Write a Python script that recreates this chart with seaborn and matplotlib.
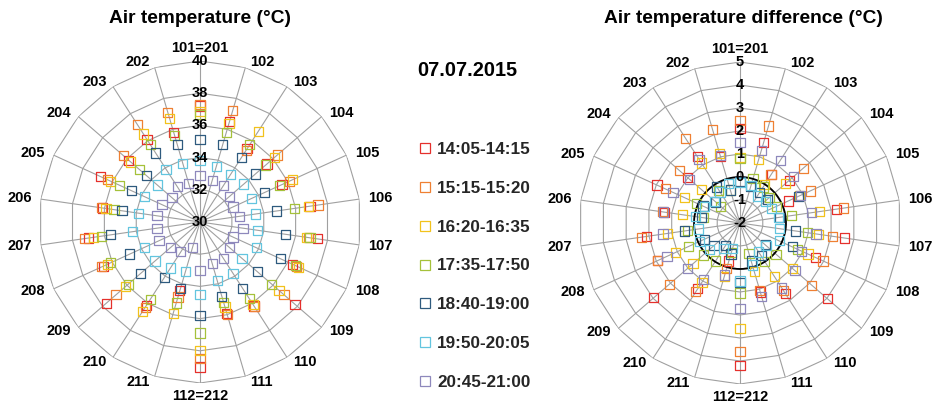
import numpy as np
import pandas as pd
import matplotlib
matplotlib.use("Agg")
import matplotlib.pyplot as plt
import seaborn as sns
from matplotlib.lines import Line2D

# ---------------- data ----------------
spokes = ["101=201", "102", "103", "104", "105", "106", "107", "108", "109", "110", "111",
          "112=212", "211", "210", "209", "208", "207", "206", "205", "204", "203", "202"]
periods = ["14:05-14:15", "15:15-15:20", "16:20-16:35", "17:35-17:50",
           "18:40-19:00", "19:50-20:05", "20:45-21:00"]
date_label = "07.07.2015"

temp_rings = [30, 32, 34, 36, 38, 40]
diff_rings = [-2, -1, 0, 1, 2, 3, 4, 5]

# Air temperature (deg C), one value per spoke (order of `spokes`)
temp_1405 = [37.2, 36.5, 35.4, 35.5, 35.6, 36.9, 37.35, 36.3, 37.8, 36.2, 35.9,
             39.0, 34.45, 36.15, 37.7, 36.6, 37.0, 36.1, 36.8, 35.85, 36.1, 35.8]
temp_1515 = [37.3, 37.2, 35.3, 36.35, 36.1, 37.4, 36.8, 36.6, 36.9, 36.25, 36.0,
             38.5, 34.85, 36.3, 36.9, 36.7, 37.25, 36.2, 36.3, 36.3, 37.2, 37.1]
temp_1620 = [36.85, 36.4, 36.7, 36.1, 36.3, 36.8, 36.7, 36.75, 36.5, 36.1, 35.5,
             38.0, 35.9, 36.6, 36.15, 36.3, 36.7, 35.9, 36.1, 35.7, 36.5, 36.7]
temp_1735 = [36.7, 35.8, 35.7, 35.4, 35.45, 35.95, 36.9, 36.5, 35.9, 35.65, 35.2,
             36.9, 35.25, 35.7, 35.9, 36.1, 36.2, 35.4, 35.5, 34.95, 35.7, 35.6]
temp_1840 = [35.1, 35.0, 34.75, 34.56, 34.4, 34.8, 35.35, 35.5, 34.7, 34.9, 34.8,
             35.8, 34.3, 34.1, 34.9, 34.8, 35.6, 34.9, 34.7, 34.4, 35.1, 35.0]
temp_1950 = [33.8, 33.6, 33.5, 33.6, 33.5, 33.5, 33.6, 33.85, 33.45, 33.8, 33.8,
             34.5, 33.2, 33.4, 33.7, 33.8, 34.25, 33.85, 33.8, 33.5, 33.9, 33.8]
temp_2045 = [32.9, 32.7, 32.7, 32.4, 32.25, 32.5, 32.7, 32.25, 32.4, 32.7, 32.7,
             33.0, 31.65, 32.2, 32.4, 32.8, 32.7, 32.7, 32.6, 32.3, 32.6, 32.5]

# Air temperature difference (deg C)
diff_1405 = [2.1, 1.66, 0.51, 0.84, 0.3, 2.23, 2.6, 1.62, 3.03, 1.65, 1.13,
             4.19, -0.28, 1.4, 2.96, 1.95, 2.1, 1.3, 1.97, 1.03, 1.42, 1.0]
diff_1515 = [2.45, 2.4, 0.5, 1.64, 1.36, 2.56, 2.07, 1.97, 2.13, 1.5, 1.05,
             3.6, 0.05, 1.55, 2.07, 1.95, 2.32, 1.4, 1.57, 1.46, 2.37, 2.22]
diff_1620 = [0.85, 0.89, 0.0, 0.6, 0.85, 1.5, 1.45, 1.25, 1.03, 0.76, 0.2,
             2.57, 0.43, 1.06, 0.7, 1.1, 1.19, 0.51, 0.67, 0.23, 1.1, 1.15]
diff_1735 = [0.8, 0.0, -0.14, -0.3, -0.24, 0.25, 0.97, 0.75, 0.07, 0.0, -0.62,
             1.04, -0.68, -0.04, 0.12, 0.45, 0.3, -0.39, 0.08, -0.9, -0.3, -0.5]
diff_1840 = [-0.2, -0.35, -0.43, -0.44, 0.8, -0.26, 0.43, 0.5, -0.55, -0.3, -0.28,
             0.6, -0.6, -0.84, -0.5, -0.29, 0.45, -0.3, -0.23, -0.6, -0.14, -0.5]
diff_1950 = [-0.25, -0.29, -0.6, -0.55, -0.5, -0.3, -0.27, -0.13, -0.5, -0.5, -0.1,
             0.52, -0.84, -0.7, -0.23, -0.07, -0.17, -0.05, -0.3, -0.55, -0.4, -0.2]
diff_2045 = [1.5, 1.28, 1.24, 1.1, 0.9, 1.13, 1.34, 0.95, 1.17, 1.36, 1.34,
             1.72, 0.36, 0.94, 1.04, 1.49, 1.38, 1.35, 1.2, 0.9, 1.3, 1.07]

temp_series = [temp_1405, temp_1515, temp_1620, temp_1735, temp_1840, temp_1950, temp_2045]
diff_series = [diff_1405, diff_1515, diff_1620, diff_1735, diff_1840, diff_1950, diff_2045]

# ---------------- style ----------------
colors = ["#e5302c", "#ef8033", "#f2c21c", "#a5c13a", "#2e5a7e", "#63c5df", "#8e88bc"]
palette = dict(zip(periods, colors))
grid_c = "#a0a0a0"

sns.set_theme(style="white")
plt.rcParams["font.family"] = ["Liberation Sans", "DejaVu Sans"]

fig = plt.figure(figsize=(9.4, 4.05), dpi=100)
fig.patch.set_facecolor("white")

n = len(spokes)
theta = np.arange(n) * 2 * np.pi / n


def long_df(series):
    rows = []
    for p, vals in zip(periods, series):
        for k, v in enumerate(vals):
            rows.append((p, theta[k], v))
    return pd.DataFrame(rows, columns=["period", "theta", "value"])


def radar(rect, series, rings, title, title_x):
    ax = fig.add_axes(rect, projection="polar")
    ax.set_theta_zero_location("N")
    ax.set_theta_direction(-1)
    rmin, rmax = rings[0], rings[-1]
    ax.set_ylim(rmin, rmax)
    ax.grid(False)
    ax.set_xticks([])
    ax.set_yticks([])
    ax.spines["polar"].set_visible(False)
    ax.set_facecolor("white")
    closed = np.append(theta, theta[0])
    for r in rings[1:]:
        ax.plot(closed, [r] * len(closed), color=grid_c, lw=0.8, zorder=1)
    for t in theta:
        ax.plot([t, t], [rmin, rmax], color=grid_c, lw=0.8, zorder=1)

    df = long_df(series)
    sns.scatterplot(data=df, x="theta", y="value", hue="period", palette=palette,
                    hue_order=periods, marker="s", s=44, linewidth=0.9,
                    legend=False, ax=ax, zorder=3)
    for coll in ax.collections:
        fc = coll.get_facecolors()
        coll.set_edgecolors(fc)
        coll.set_facecolors("none")
    ax.set_xlabel("")
    ax.set_ylabel("")
    ax.set_ylim(rmin, rmax)

    for r in rings:
        ax.text(0, r, str(r), ha="center", va="center", fontsize=10.5,
                fontweight="bold", color="black", zorder=5)

    px = 0.72
    for k, lab in enumerate(spokes):
        s, c = np.sin(theta[k]), np.cos(theta[k])
        if abs(s) < 0.05:
            ha = "center"
            dx, dy = 0, 13 * np.sign(c)
        else:
            ha = "left" if s > 0 else "right"
            dx = (3 + 6 * abs(s)) * np.sign(s)
            dy = 6 * c
        ax.annotate(lab, xy=(theta[k], rmax), xytext=(dx * px, dy * px),
                    textcoords="offset points", ha=ha, va="center",
                    fontsize=10.5, fontweight="bold", color="black",
                    annotation_clip=False)
    fig.text(title_x, 1 - 18.5 / 405, title, ha="center", va="center",
             fontsize=13.8, fontweight="bold", color="black")
    return ax


W, H = 940, 405
R = 161
def rect_for(cx, cy):
    return [(cx - R) / W, (H - cy - R) / H, 2 * R / W, 2 * R / H]

ax1 = radar(rect_for(200, 222), temp_series, temp_rings,
            "Air temperature (°C)", 200 / W)
ax2 = radar(rect_for(740, 223), diff_series, diff_rings,
            "Air temperature difference (°C)", 743 / W)
circ = np.linspace(0, 2 * np.pi, 361)
ax2.plot(circ, np.zeros_like(circ), color="black", lw=1.3, zorder=2)

# legend
fig.text(467 / W, 1 - 70 / H, date_label, ha="center", va="center",
         fontsize=14.3, fontweight="bold", color="black")
handles = [Line2D([], [], linestyle="none", marker="s", markersize=6.8,
                  markerfacecolor="none", markeredgecolor=c, markeredgewidth=0.9)
           for c in colors]
fig.legend(handles, periods, loc="center left",
           bbox_to_anchor=(417.5 / W, 1 - 266 / H), frameon=False,
           prop={"weight": "bold", "size": 12.3}, handlelength=0.85,
           handletextpad=0.3, labelspacing=1.4, borderpad=0, borderaxespad=0)

fig.savefig("out.png", dpi=100, facecolor="white")
